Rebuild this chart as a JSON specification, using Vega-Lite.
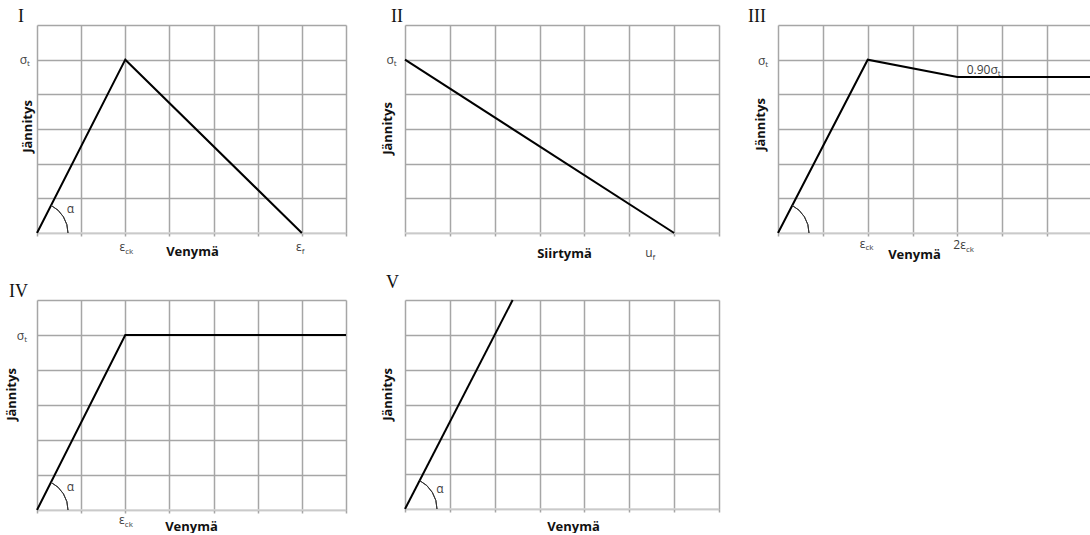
{
  "$schema": "https://vega.github.io/schema/vega-lite/v6.json",
  "background": "white",
  "padding": {"left": 5, "top": 8, "right": 0, "bottom": 0},
  "columns": 3,
  "spacing": {"row": 67, "column": 59},
  "bounds": "flush",
  "datasets": {
    "curves": [
      {"panel": "I", "x": 0, "y": 0}, {"panel": "I", "x": 2, "y": 5}, {"panel": "I", "x": 6, "y": 0},
      {"panel": "II", "x": 0, "y": 5}, {"panel": "II", "x": 6, "y": 0},
      {"panel": "III", "x": 0, "y": 0}, {"panel": "III", "x": 2, "y": 5}, {"panel": "III", "x": 4, "y": 4.5}, {"panel": "III", "x": 7, "y": 4.5},
      {"panel": "IV", "x": 0, "y": 0}, {"panel": "IV", "x": 2, "y": 5}, {"panel": "IV", "x": 7, "y": 5},
      {"panel": "V", "x": 0, "y": 0}, {"panel": "V", "x": 2.4, "y": 6}
    ],
    "labels": [
      {"panel": "I", "x": 2, "y": -0.52, "main": "ε", "sub": "ck"},
      {"panel": "I", "x": 6, "y": -0.52, "main": "ε", "sub": "f"},
      {"panel": "I", "x": -0.227, "y": 4.88, "main": "σ", "sub": "t"},
      {"panel": "I", "x": 0.84, "y": 0.57, "main": "α", "sub": ""},
      {"panel": "II", "x": -0.25, "y": 4.88, "main": "σ", "sub": "t"},
      {"panel": "II", "x": 5.52, "y": -0.7, "main": "u", "sub": "f"},
      {"panel": "III", "x": -0.284, "y": 4.86, "main": "σ", "sub": "t"},
      {"panel": "III", "x": 1.95, "y": -0.43, "main": "ε", "sub": "ck"},
      {"panel": "III", "x": 4.19, "y": -0.47, "main": "2ε", "sub": "ck"},
      {"panel": "III", "x": 4.9, "y": 4.6, "main": "0.90σ", "sub": "t"},
      {"panel": "IV", "x": -0.29, "y": 4.86, "main": "σ", "sub": "t"},
      {"panel": "IV", "x": 1.99, "y": -0.4, "main": "ε", "sub": "ck"},
      {"panel": "IV", "x": 0.84, "y": 0.54, "main": "α", "sub": ""},
      {"panel": "V", "x": 0.86, "y": 0.47, "main": "α", "sub": ""}
    ]
  },
  "config": {
    "view": {"stroke": null},
    "font": "Open Sans",
    "axis": {
      "grid": true,
      "gridColor": "#a6a6a6",
      "gridWidth": 1.5,
      "domain": false,
      "labels": false,
      "titleFont": "Open Sans",
      "titleFontWeight": "bold",
      "titleFontSize": 13,
      "titleColor": "#111111"
    },
    "axisX": {"ticks": true, "tickSize": 3, "tickColor": "#a6a6a6", "tickWidth": 1.5, "titleBaseline": "alphabetic"},
    "axisY": {"ticks": false, "titleBaseline": "bottom"},
    "title": {"anchor": "start", "frame": "group", "font": "Liberation Serif", "fontSize": 18, "fontWeight": "normal", "color": "#111111", "baseline": "alphabetic", "offset": 0, "dy": 5}
  },
  "concat": [
    {
      "width": 309, "height": 208,
      "title": {"text": "I", "dx": -19},
      "layer": [
        {
          "data": {"name": "curves"},
          "transform": [{"filter": "datum.panel === 'I' && datum.x === 0 && datum.y === 0"}],
          "mark": {"type": "rule", "color": "#d6d6d6", "strokeWidth": 1.6},
          "encoding": {
            "x": {"field": "x", "type": "quantitative", "scale": {"domain": [0, 7], "nice": false},
                  "axis": {"values": [0, 1, 2, 3, 4, 5, 6, 7], "tickCount": 8, "title": "Venymä", "titleX": 155, "titleY": 22}},
            "x2": {"datum": 7},
            "y": {"field": "y", "type": "quantitative", "scale": {"domain": [0, 6], "nice": false},
                  "axis": {"values": [0, 1, 2, 3, 4, 5, 6], "tickCount": 7, "title": "Jännitys", "titleX": -3, "titleY": 101}}
          }
        },
        {
          "data": {"name": "curves"},
          "transform": [{"filter": "datum.panel === 'I'"}],
          "mark": {"type": "line", "color": "black", "strokeWidth": 2},
          "encoding": {"x": {"field": "x", "type": "quantitative"}, "y": {"field": "y", "type": "quantitative"}}
        },
        {
          "data": {"name": "curves"},
          "transform": [{"filter": "datum.panel === 'I' && datum.x === 0 && datum.y === 0"}],
          "mark": {"type": "arc", "radius": 31, "radius2": 31, "theta": 0.47, "theta2": 1.5708, "filled": false, "color": "#333333", "strokeWidth": 1},
          "encoding": {"x": {"field": "x", "type": "quantitative"}, "y": {"field": "y", "type": "quantitative"}}
        },
        {
          "data": {"name": "labels"},
          "transform": [{"filter": "datum.panel === 'I'"}],
          "mark": {"type": "text", "align": "right", "baseline": "alphabetic", "fontSize": 12, "fill": "#404040"},
          "encoding": {"x": {"field": "x", "type": "quantitative"}, "y": {"field": "y", "type": "quantitative"}, "text": {"field": "main"}}
        },
        {
          "data": {"name": "labels"},
          "transform": [{"filter": "datum.panel === 'I'"}],
          "mark": {"type": "text", "align": "left", "baseline": "alphabetic", "fontSize": 8, "dy": 2.5, "fill": "#404040"},
          "encoding": {"x": {"field": "x", "type": "quantitative"}, "y": {"field": "y", "type": "quantitative"}, "text": {"field": "sub"}}
        }
      ]
    },
    {
      "width": 314, "height": 208,
      "title": {"text": "II", "dx": -14},
      "layer": [
        {
          "data": {"name": "curves"},
          "transform": [{"filter": "datum.panel === 'II' && datum.x === 6 && datum.y === 0"}],
          "mark": {"type": "rule", "color": "#d6d6d6", "strokeWidth": 1.6},
          "encoding": {
            "x": {"datum": 0, "type": "quantitative", "scale": {"domain": [0, 7], "nice": false},
                  "axis": {"values": [0, 1, 2, 3, 4, 5, 6, 7], "tickCount": 8, "title": "Siirtymä", "titleX": 159, "titleY": 24}},
            "x2": {"datum": 7},
            "y": {"field": "y", "type": "quantitative", "scale": {"domain": [0, 6], "nice": false},
                  "axis": {"values": [0, 1, 2, 3, 4, 5, 6], "tickCount": 7, "title": "Jännitys", "titleX": -11, "titleY": 103}}
          }
        },
        {
          "data": {"name": "curves"},
          "transform": [{"filter": "datum.panel === 'II'"}],
          "mark": {"type": "line", "color": "black", "strokeWidth": 2},
          "encoding": {"x": {"field": "x", "type": "quantitative"}, "y": {"field": "y", "type": "quantitative"}}
        },
        {
          "data": {"name": "labels"},
          "transform": [{"filter": "datum.panel === 'II'"}],
          "mark": {"type": "text", "align": "right", "baseline": "alphabetic", "fontSize": 12, "fill": "#404040"},
          "encoding": {"x": {"field": "x", "type": "quantitative"}, "y": {"field": "y", "type": "quantitative"}, "text": {"field": "main"}}
        },
        {
          "data": {"name": "labels"},
          "transform": [{"filter": "datum.panel === 'II'"}],
          "mark": {"type": "text", "align": "left", "baseline": "alphabetic", "fontSize": 8, "dy": 2.5, "fill": "#404040"},
          "encoding": {"x": {"field": "x", "type": "quantitative"}, "y": {"field": "y", "type": "quantitative"}, "text": {"field": "sub"}}
        }
      ]
    },
    {
      "width": 314, "height": 208,
      "title": {"text": "III", "dx": -30},
      "layer": [
        {
          "data": {"name": "curves"},
          "transform": [{"filter": "datum.panel === 'III' && datum.x === 0 && datum.y === 0"}],
          "mark": {"type": "rule", "color": "#d6d6d6", "strokeWidth": 1.6},
          "encoding": {
            "x": {"field": "x", "type": "quantitative", "scale": {"domain": [0, 7], "nice": false},
                  "axis": {"values": [0, 1, 2, 3, 4, 5, 6, 7], "tickCount": 8, "title": "Venymä", "titleX": 136, "titleY": 25}},
            "x2": {"datum": 7},
            "y": {"field": "y", "type": "quantitative", "scale": {"domain": [0, 6], "nice": false},
                  "axis": {"values": [0, 1, 2, 3, 4, 5, 6], "tickCount": 7, "title": "Jännitys", "titleX": -11, "titleY": 99}}
          }
        },
        {
          "data": {"name": "curves"},
          "transform": [{"filter": "datum.panel === 'III'"}],
          "mark": {"type": "line", "color": "black", "strokeWidth": 2},
          "encoding": {"x": {"field": "x", "type": "quantitative"}, "y": {"field": "y", "type": "quantitative"}}
        },
        {
          "data": {"name": "curves"},
          "transform": [{"filter": "datum.panel === 'III' && datum.x === 0 && datum.y === 0"}],
          "mark": {"type": "arc", "radius": 31, "radius2": 31, "theta": 0.47, "theta2": 1.5708, "filled": false, "color": "#333333", "strokeWidth": 1},
          "encoding": {"x": {"field": "x", "type": "quantitative"}, "y": {"field": "y", "type": "quantitative"}}
        },
        {
          "data": {"name": "labels"},
          "transform": [{"filter": "datum.panel === 'III'"}],
          "mark": {"type": "text", "align": "right", "baseline": "alphabetic", "fontSize": 12, "fill": "#404040"},
          "encoding": {"x": {"field": "x", "type": "quantitative"}, "y": {"field": "y", "type": "quantitative"}, "text": {"field": "main"}}
        },
        {
          "data": {"name": "labels"},
          "transform": [{"filter": "datum.panel === 'III'"}],
          "mark": {"type": "text", "align": "left", "baseline": "alphabetic", "fontSize": 8, "dy": 2.5, "fill": "#404040"},
          "encoding": {"x": {"field": "x", "type": "quantitative"}, "y": {"field": "y", "type": "quantitative"}, "text": {"field": "sub"}}
        }
      ]
    },
    {
      "width": 309, "height": 210,
      "title": {"text": "IV", "dx": -28},
      "layer": [
        {
          "data": {"name": "curves"},
          "transform": [{"filter": "datum.panel === 'IV' && datum.x === 0 && datum.y === 0"}],
          "mark": {"type": "rule", "color": "#d6d6d6", "strokeWidth": 1.6},
          "encoding": {
            "x": {"field": "x", "type": "quantitative", "scale": {"domain": [0, 7], "nice": false},
                  "axis": {"values": [0, 1, 2, 3, 4, 5, 6, 7], "tickCount": 8, "title": "Venymä", "titleX": 154, "titleY": 20}},
            "x2": {"datum": 7},
            "y": {"field": "y", "type": "quantitative", "scale": {"domain": [0, 6], "nice": false},
                  "axis": {"values": [0, 1, 2, 3, 4, 5, 6], "tickCount": 7, "title": "Jännitys", "titleX": -18.7, "titleY": 94}}
          }
        },
        {
          "data": {"name": "curves"},
          "transform": [{"filter": "datum.panel === 'IV'"}],
          "mark": {"type": "line", "color": "black", "strokeWidth": 2},
          "encoding": {"x": {"field": "x", "type": "quantitative"}, "y": {"field": "y", "type": "quantitative"}}
        },
        {
          "data": {"name": "curves"},
          "transform": [{"filter": "datum.panel === 'IV' && datum.x === 0 && datum.y === 0"}],
          "mark": {"type": "arc", "radius": 31, "radius2": 31, "theta": 0.47, "theta2": 1.5708, "filled": false, "color": "#333333", "strokeWidth": 1},
          "encoding": {"x": {"field": "x", "type": "quantitative"}, "y": {"field": "y", "type": "quantitative"}}
        },
        {
          "data": {"name": "labels"},
          "transform": [{"filter": "datum.panel === 'IV'"}],
          "mark": {"type": "text", "align": "right", "baseline": "alphabetic", "fontSize": 12, "fill": "#404040"},
          "encoding": {"x": {"field": "x", "type": "quantitative"}, "y": {"field": "y", "type": "quantitative"}, "text": {"field": "main"}}
        },
        {
          "data": {"name": "labels"},
          "transform": [{"filter": "datum.panel === 'IV'"}],
          "mark": {"type": "text", "align": "left", "baseline": "alphabetic", "fontSize": 8, "dy": 2.5, "fill": "#404040"},
          "encoding": {"x": {"field": "x", "type": "quantitative"}, "y": {"field": "y", "type": "quantitative"}, "text": {"field": "sub"}}
        }
      ]
    },
    {
      "width": 314, "height": 209,
      "title": {"text": "V", "dx": -19, "dy": 0},
      "layer": [
        {
          "data": {"name": "curves"},
          "transform": [{"filter": "datum.panel === 'V' && datum.x === 0 && datum.y === 0"}],
          "mark": {"type": "rule", "color": "#d6d6d6", "strokeWidth": 1.6},
          "encoding": {
            "x": {"field": "x", "type": "quantitative", "scale": {"domain": [0, 7], "nice": false},
                  "axis": {"values": [0, 1, 2, 3, 4, 5, 6, 7], "tickCount": 8, "title": "Venymä", "titleX": 168, "titleY": 21}},
            "x2": {"datum": 7},
            "y": {"field": "y", "type": "quantitative", "scale": {"domain": [0, 6], "nice": false},
                  "axis": {"values": [0, 1, 2, 3, 4, 5, 6], "tickCount": 7, "title": "Jännitys", "titleX": -11, "titleY": 94}}
          }
        },
        {
          "data": {"name": "curves"},
          "transform": [{"filter": "datum.panel === 'V'"}],
          "mark": {"type": "line", "color": "black", "strokeWidth": 2},
          "encoding": {"x": {"field": "x", "type": "quantitative"}, "y": {"field": "y", "type": "quantitative"}}
        },
        {
          "data": {"name": "curves"},
          "transform": [{"filter": "datum.panel === 'V' && datum.x === 0 && datum.y === 0"}],
          "mark": {"type": "arc", "radius": 32, "radius2": 32, "theta": 0.476, "theta2": 1.5708, "filled": false, "color": "#333333", "strokeWidth": 1},
          "encoding": {"x": {"field": "x", "type": "quantitative"}, "y": {"field": "y", "type": "quantitative"}}
        },
        {
          "data": {"name": "labels"},
          "transform": [{"filter": "datum.panel === 'V'"}],
          "mark": {"type": "text", "align": "right", "baseline": "alphabetic", "fontSize": 12, "fill": "#404040"},
          "encoding": {"x": {"field": "x", "type": "quantitative"}, "y": {"field": "y", "type": "quantitative"}, "text": {"field": "main"}}
        }
      ]
    }
  ]
}
